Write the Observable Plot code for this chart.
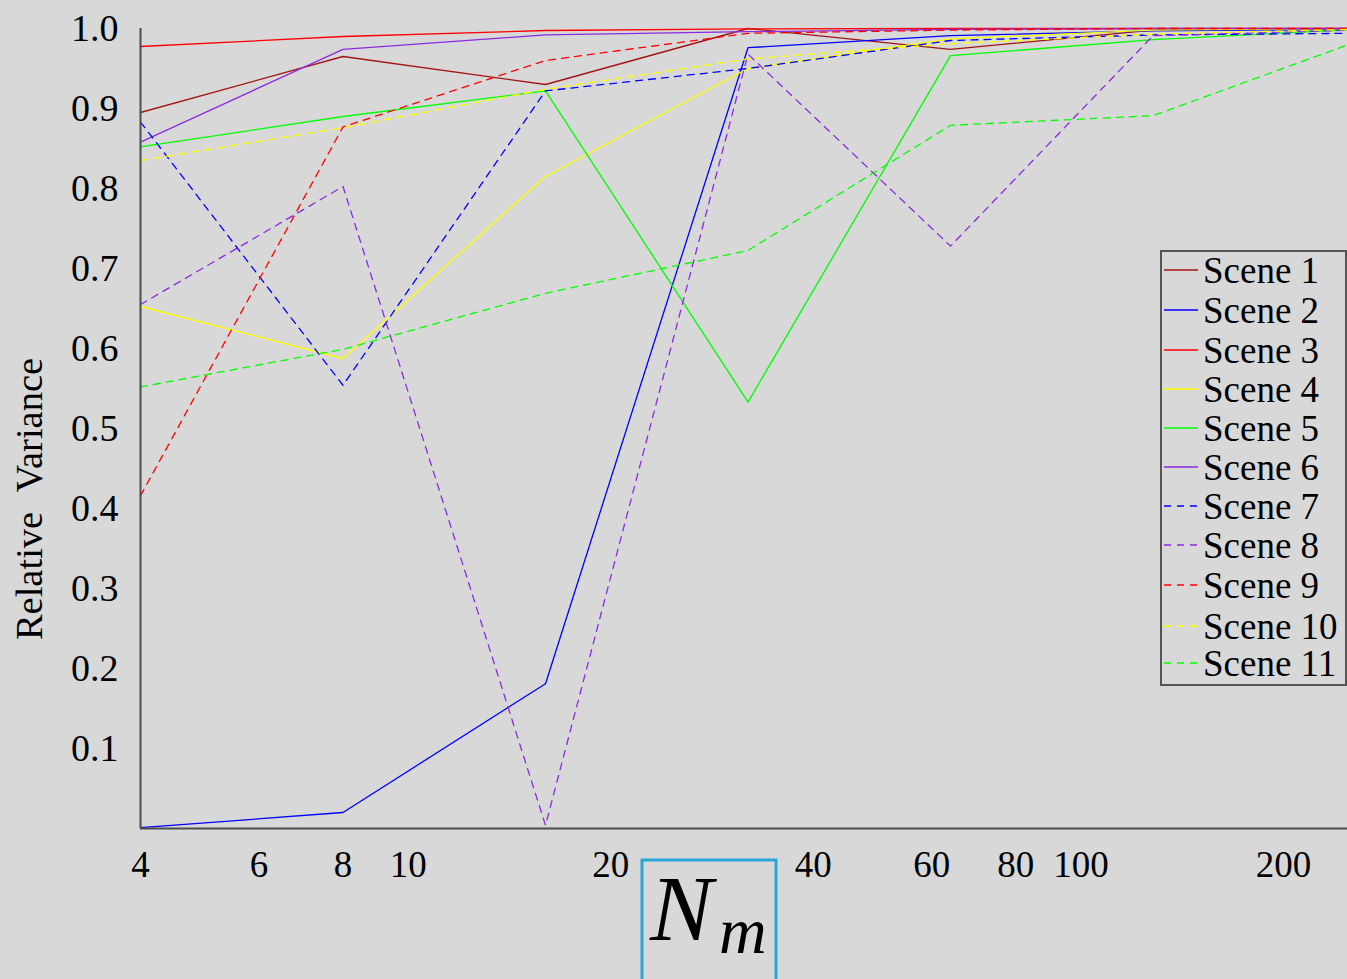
<!DOCTYPE html>
<html>
<head>
<meta charset="utf-8">
<script src="https://cdn.jsdelivr.net/npm/d3@7"></script>
<script src="https://cdn.jsdelivr.net/npm/@observablehq/plot@0.6"></script>
<style>
  html, body { margin: 0; padding: 0; background: #d8d8d8; overflow: hidden; }
  #wrap { position: relative; width: 1347px; height: 979px; overflow: hidden; }
</style>
</head>
<body>
<div id="wrap"></div>
<script>
// ---- data ----
const nm = [4, 8, 16, 32, 64, 128, 256];
const sceneNames = ["Scene 1", "Scene 2", "Scene 3", "Scene 4", "Scene 5", "Scene 6",
                    "Scene 7", "Scene 8", "Scene 9", "Scene 10", "Scene 11"];
const scene1  = [0.895, 0.965, 0.930, 1.000, 0.974, 0.998, 1.000];
const scene2  = [0.001, 0.020, 0.181, 0.976, 0.991, 0.997, 0.999];
const scene3  = [0.9775, 0.990, 0.9975, 0.9995, 1.000, 1.000, 1.000];
const scene4  = [0.6525, 0.5875, 0.815, 0.950, 0.987, 0.998, 1.000];
const scene5  = [0.852, 0.890, 0.922, 0.533, 0.966, 0.986, 0.999];
const scene6  = [0.858, 0.974, 0.992, 0.996, 0.999, 1.000, 1.000];
const scene7  = [0.883, 0.554, 0.922, 0.950, 0.985, 0.992, 0.994];
const scene8  = [0.655, 0.8025, 0.004, 0.968, 0.728, 0.991, 0.998];
const scene9  = [0.416, 0.877, 0.960, 0.994, 0.998, 1.000, 1.000];
const scene10 = [0.835, 0.876, 0.924, 0.962, 0.981, 0.993, 0.999];
const scene11 = [0.552, 0.599, 0.669, 0.7225, 0.879, 0.891, 0.983];
const xTicks = [4, 6, 8, 10, 20, 40, 60, 80, 100, 200];
const yTicks = [0.1, 0.2, 0.3, 0.4, 0.5, 0.6, 0.7, 0.8, 0.9, 1.0];

// ---- styles ----
const series = [scene1, scene2, scene3, scene4, scene5, scene6, scene7, scene8, scene9, scene10, scene11];
const colors = ["#a31414", "#0000ff", "#ff0000", "#ffff00", "#00ff00", "#8a2be2",
                "#0000ff", "#8a2be2", "#ff0000", "#ffff00", "#00ff00"];
const dashed = [false, false, false, false, false, false, true, true, true, true, true];
const DASH = "7,6";
const FONT = "'Liberation Serif', 'Times New Roman', serif";

const rows = [];
series.forEach((vals, i) => vals.forEach((v, j) => rows.push({scene: sceneNames[i], n: nm[j], v})));

const lineMarks = sceneNames.map((name, i) =>
  Plot.line(rows.filter(r => r.scene === name), {
    x: "n", y: "v",
    stroke: colors[i],
    strokeWidth: 1.3,
    strokeDasharray: dashed[i] ? DASH : null
  })
);

const W = 1347, H = 979;
const chart = Plot.plot({
  width: W,
  height: H,
  marginLeft: 140,
  marginRight: 0,
  marginTop: 28,
  marginBottom: 151,
  style: {
    background: "#d8d8d8",
    fontFamily: FONT,
    fontSize: "38px",
    color: "#000"
  },
  x: {
    type: "log",
    domain: [4, 256],
    range: [140, 1355],
    axis: null
  },
  y: {
    domain: [0, 1],
    ticks: yTicks,
    tickFormat: d3.format(".1f"),
    tickSize: 0,
    tickPadding: 22,
    label: null
  },
  marks: [
    ...lineMarks,
    Plot.ruleX([4], {stroke: "#4d4d4d", strokeWidth: 2}),
    Plot.ruleY([0], {stroke: "#4d4d4d", strokeWidth: 2}),
    Plot.text(xTicks, {
      x: d => d,
      frameAnchor: "bottom",
      lineAnchor: "middle",
      dy: 37,
      text: d => String(d),
      fontSize: 37,
      fill: "#000"
    })
  ]
});

document.getElementById("wrap").appendChild(chart);

const svg = d3.select(chart);

// y-axis label
svg.append("text")
  .attr("transform", "translate(42,499) rotate(-90)")
  .attr("text-anchor", "middle")
  .attr("font-family", FONT)
  .attr("font-size", 38.5)
  .attr("fill", "#000")
  .text("Relative\u00a0\u00a0Variance");

// legend
const lg = svg.append("g");
lg.append("rect")
  .attr("x", 1161).attr("y", 251).attr("width", 185).attr("height", 434)
  .attr("fill", "#d8d8d8").attr("stroke", "#555").attr("stroke-width", 2);
const rowY = [270, 310, 350, 389, 428, 467, 506, 545, 585, 626, 663];
sceneNames.forEach((name, i) => {
  lg.append("line")
    .attr("x1", 1164).attr("x2", 1198)
    .attr("y1", rowY[i]).attr("y2", rowY[i])
    .attr("stroke", colors[i]).attr("stroke-width", 1.3)
    .attr("stroke-dasharray", dashed[i] ? DASH : null);
  lg.append("text")
    .attr("x", 1203).attr("y", rowY[i])
    .attr("dy", "0.34em")
    .attr("text-anchor", "start")
    .attr("font-family", FONT)
    .attr("font-size", 37)
    .attr("fill", "#000")
    .text(name);
});

// x-axis label box  N_m
const xl = svg.append("g");
xl.append("rect")
  .attr("x", 642).attr("y", 860).attr("width", 134).attr("height", 160)
  .attr("fill", "none").attr("stroke", "#29a6dc").attr("stroke-width", 3);
xl.append("text")
  .attr("x", 650).attr("y", 940)
  .attr("text-anchor", "start")
  .attr("font-family", FONT)
  .attr("font-style", "italic")
  .attr("font-size", 94)
  .attr("fill", "#000")
  .text("N");
xl.append("text")
  .attr("x", 719).attr("y", 953)
  .attr("text-anchor", "start")
  .attr("font-family", FONT)
  .attr("font-style", "italic")
  .attr("font-size", 66)
  .attr("fill", "#000")
  .text("m");
</script>
</body>
</html>
